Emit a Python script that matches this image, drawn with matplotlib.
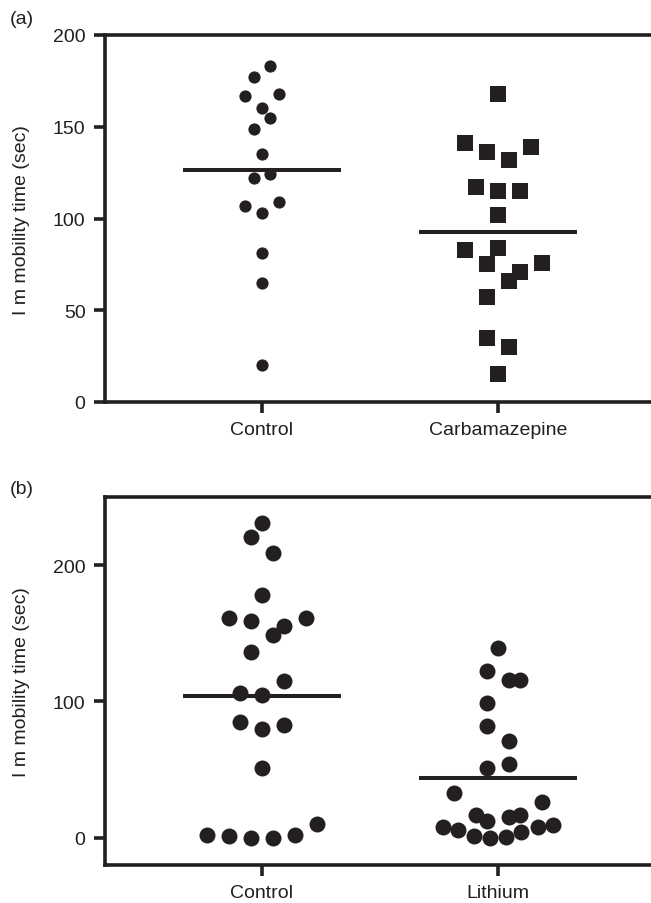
import numpy as np
import matplotlib
matplotlib.use("Agg")
import matplotlib.pyplot as plt

plt.rcParams['font.family'] = ['Liberation Sans', 'DejaVu Sans']

INK = '#231f20'

# (a) Control vs Carbamazepine
groups_a = ['Control', 'Carbamazepine']
ctrl_a = [183, 177, 166.5, 168, 160, 154.5, 149, 135, 124, 122, 109, 107, 103, 81, 65, 20]
ctrl_a_slot = [1, -1, -2, 2, 0, 1, -1, 0, 1, -1, 2, -2, 0, 0, 0, 0]
carb = [168, 141, 136.5, 132, 139, 117, 115, 115, 102, 83, 84, 75, 76, 71, 66, 57, 35, 30, 15]
carb_slot = [0, -3, -1, 1, 3, -2, 0, 2, 0, -3, 0, -1, 4, 2, 1, -1, -1, 1, 0]
yticks_a = [0, 50, 100, 150, 200]

# (b) Control vs Lithium
groups_b = ['Control', 'Lithium']
ctrl_b = [231, 221, 209, 178, 161, 159, 161, 155, 148.5, 136, 115, 106, 105,
          85, 80, 83, 51, 2, 1, 0, 0, 2, 10]
ctrl_b_slot = [0, -1, 1, 0, -3, -1, 4, 2, 1, -1, 2, -2, 0, -2, 0, 2, 0, -5, -3, -1, 1, 3, 5]
lith = [139, 122, 115.5, 116, 99, 82, 71, 54, 51, 32.5, 26, 17, 12, 15.5, 17,
        8, 5.5, 1.5, 0, 0.5, 4, 8, 9]
lith_slot = [0, -1, 1, 2, -1, -1, 1, 1, -1, -4, 4, -2, -1, 1, 2,
             -5, -3.6, -2.2, -0.7, 0.7, 2.1, 3.6, 5]
yticks_b = [0, 100, 200]

ylabel = 'I m mobility time (sec)'

fig = plt.figure(figsize=(6.51, 9.04), dpi=100)
W, H = 651.0, 904.0


def make_axes(top_px, bot_px):
    left, right = 105 / W, 655 / W
    return fig.add_axes([left, 1 - bot_px / H, right - left, (bot_px - top_px) / H])


def style(ax, groups, yticks, ylim):
    ax.set_xlim(0.335, 2.665)
    ax.set_ylim(*ylim)
    ax.set_xticks([1, 2])
    ax.set_xticklabels(groups)
    ax.set_yticks(yticks)
    ax.spines['right'].set_visible(False)
    for s in ['left', 'top', 'bottom']:
        ax.spines[s].set_linewidth(2.6)
        ax.spines[s].set_color(INK)
    ax.tick_params(direction='out', length=8, width=2.6, color=INK,
                   labelsize=14, labelcolor=INK, top=False, right=False)
    ax.tick_params(axis='x', pad=6)
    ax.tick_params(axis='y', pad=6)


def column(ax, xpos, vals, slots, slot_w, marker, ms):
    xs = xpos + np.array(slots) * slot_w
    ax.scatter(xs, vals, s=ms ** 2, marker=marker, color=INK, linewidths=0,
               zorder=3, clip_on=False)
    ax.hlines(np.mean(vals), xpos - 0.335, xpos + 0.335, color=INK, lw=2.9, zorder=4)


# panel (a)
ax1 = make_axes(36, 403)
column(ax1, 1, ctrl_a, ctrl_a_slot, 0.0352, 'o', 8.8)
column(ax1, 2, carb, carb_slot, 0.0466, 's', 11.2)
style(ax1, groups_a, yticks_a, (0, 200))

# panel (b)
ax2 = make_axes(498, 866)
column(ax2, 1, ctrl_b, ctrl_b_slot, 0.0466, 'o', 11.5)
column(ax2, 2, lith, lith_slot, 0.0466, 'o', 11.5)
style(ax2, groups_b, yticks_b, (-20, 250))

fig.text(10 / W, 1 - 20 / H, '(a)', fontsize=14, color=INK, ha='left', va='center')
fig.text(10 / W, 1 - 490 / H, '(b)', fontsize=14, color=INK, ha='left', va='center')
fig.text(22 / W, 1 - 220 / H, ylabel, fontsize=14, color=INK, rotation=90,
         ha='center', va='center')
fig.text(22 / W, 1 - 682 / H, ylabel, fontsize=14, color=INK, rotation=90,
         ha='center', va='center')

fig.savefig('out.png', dpi=100)
